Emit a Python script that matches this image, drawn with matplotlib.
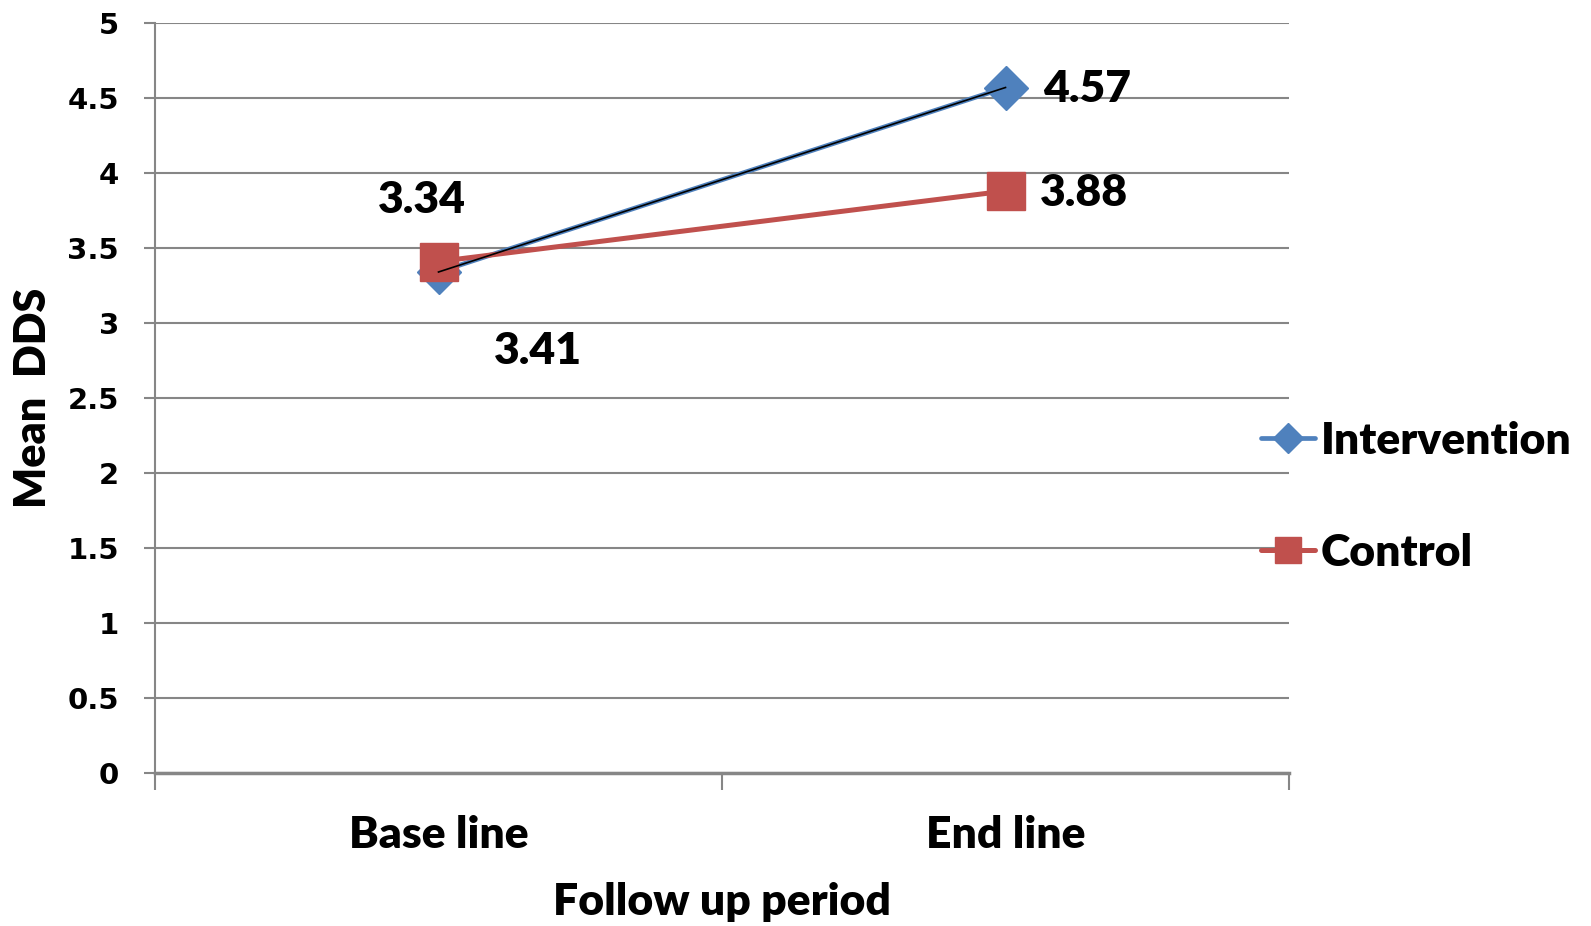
import matplotlib
matplotlib.use("Agg")
import matplotlib.pyplot as plt
from matplotlib.lines import Line2D

categories = ["Base line", "End line"]
intervention = [3.34, 4.57]
control = [3.41, 3.88]
yticks = [0, 0.5, 1, 1.5, 2, 2.5, 3, 3.5, 4, 4.5, 5]
ytick_labels = ["0", "0.5", "1", "1.5", "2", "2.5", "3", "3.5", "4", "4.5", "5"]

BLUE = "#4F81BD"
RED = "#C0504D"
GRID = "#868686"
TXT = "Lato"
W = "heavy"
FS = 32

fig = plt.figure(figsize=(15.91, 9.26), dpi=100)
ax = fig.add_axes([155/1591, 1-773/926, (1289-155)/1591, (773-23)/926])

x = list(range(len(categories)))
ax.plot(x, intervention, color=BLUE, lw=3.4, marker="D", ms=22, mec=BLUE, mfc=BLUE, zorder=3, solid_capstyle="round")
ax.plot(x, control, color=RED, lw=3.6, marker="s", ms=28, mec=RED, mfc=RED, zorder=4, solid_capstyle="round")
ax.plot(x, intervention, color="black", lw=1.2, zorder=5)

ax.set_xlim(-0.5, 1.5)
ax.set_ylim(0, 5)
ax.set_yticks(yticks)
ax.set_yticklabels(ytick_labels, fontfamily="DejaVu Sans", fontweight="bold", fontsize=21)
ax.set_xticks([-0.5, 0.5, 1.5])
ax.set_xticklabels([])
ax.set_xticks(x, minor=True)
ax.set_xticklabels(categories, minor=True, fontfamily=TXT, fontweight=W, fontsize=FS)
ax.tick_params(axis="x", which="minor", length=0, pad=30)
ax.tick_params(axis="x", which="major", length=12, width=1.5, color=GRID, direction="out")
ax.tick_params(axis="y", length=8, width=1.5, color=GRID, direction="out", pad=18)

ax.yaxis.grid(True, color=GRID, lw=1.5)
ax.set_axisbelow(True)
for s in ["top", "right"]:
    ax.spines[s].set_visible(False)
ax.spines["left"].set_color(GRID)
ax.spines["left"].set_linewidth(1.5)
ax.spines["bottom"].set_color(GRID)
ax.spines["bottom"].set_linewidth(2.5)

ax.set_xlabel("Follow up period", fontfamily=TXT, fontweight=W, fontsize=FS, labelpad=20)
ax.set_ylabel("Mean  DDS", fontfamily=TXT, fontweight=W, fontsize=31, labelpad=10)

lab_kw = dict(textcoords="offset pixels", ha="center", va="center", fontfamily=TXT, fontweight=W, fontsize=FS)
ax.annotate(f"{intervention[0]:.2f}", (x[0], intervention[0]), xytext=(-17, 72), **lab_kw)
ax.annotate(f"{control[0]:.2f}", (x[0], control[0]), xytext=(99, -90), **lab_kw)
ax.annotate(f"{intervention[1]:.2f}", (x[1], intervention[1]), xytext=(82, -2), **lab_kw)
ax.annotate(f"{control[1]:.2f}", (x[1], control[1]), xytext=(79, -2), **lab_kw)

handles = [
    Line2D([], [], color=BLUE, lw=3.4, marker="D", ms=15, mec=BLUE, mfc=BLUE, solid_capstyle="round"),
    Line2D([], [], color=RED, lw=3.6, marker="s", ms=19, mec=RED, mfc=RED, solid_capstyle="round"),
]
leg = fig.legend(handles, ["Intervention", "Control"], loc="center left",
                 bbox_to_anchor=(1261/1591, 1-497/926), frameon=False,
                 prop=dict(family=TXT, weight=W, size=FS), borderaxespad=0,
                 handlelength=1.22, handletextpad=0.12, labelspacing=1.62, borderpad=0)

fig.savefig("out.png", dpi=100)
